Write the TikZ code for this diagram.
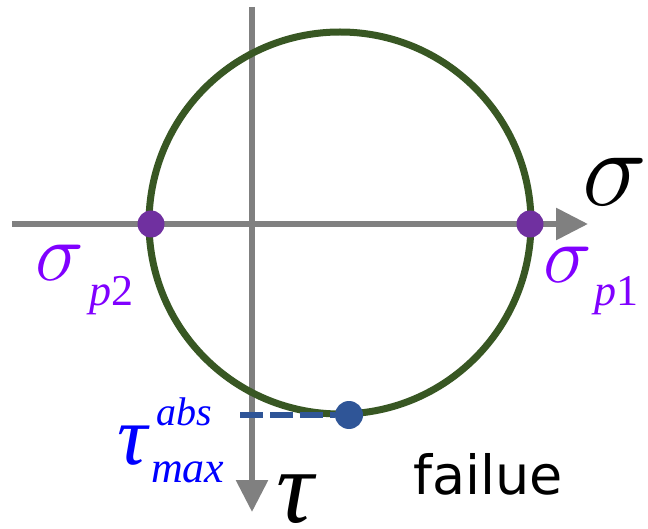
\documentclass[tikz,border=0pt]{standalone}
\usepackage{graphicx}
\usepackage{fontspec}
\usetikzlibrary{arrows.meta}
\newfontfamily\handfont{DejaVu Sans}
\newfontfamily\tnr{Liberation Serif}
\definecolor{circgreen}{RGB}{56,87,35}
\definecolor{axisgray}{RGB}{128,128,128}
\definecolor{dotpurple}{RGB}{112,48,160}
\definecolor{textpurple}{RGB}{128,0,255}
\definecolor{dotblue}{RGB}{47,85,151}
\definecolor{textblue}{RGB}{0,0,255}
\newcommand{\fs}[1]{\fontsize{#1}{#1}\selectfont}
\tikzset{
  axis/.style={draw=axisgray, line width=6pt, -{Triangle[length=32pt,width=31pt]}},
  dotnode/.style={circle, inner sep=0, minimum size=#1},
  greek/.style={inner sep=0, font=\Huge},
  lbl/.style={inner sep=0, font=\tnr\itshape},
}
\begin{document}
\begin{tikzpicture}[x=1pt,y=-1pt]
\useasboundingbox (0,0) rectangle (648,529);
\coordinate (c) at (340,223);
\coordinate (h0) at (12,224);
\coordinate (h1) at (588,224);
\coordinate (v0) at (252,7);
\coordinate (v1) at (252,512);
\draw[axis] (h0) -- (h1);
\draw[axis] (v0) -- (v1);
\draw[circgreen, line width=7pt] (c) circle[radius=191];
\node[dotnode=27pt, fill=dotpurple] (p2) at (151,224) {};
\node[dotnode=27pt, fill=dotpurple] (p1) at (530,224) {};
\node[dotnode=28pt, fill=dotblue] (tm) at (349,415) {};
\coordinate (d0) at (240,415);
\draw[dotblue, line width=6pt, dash pattern=on 23pt off 7pt] (d0) -- (tm);
% black axis labels
\node[greek] (sig) at (615,182) {\scalebox{4.4}{$\sigma$}};
\node[lbl] (tau) at (295,499) {\fs{104}τ};
% principal stresses
\node[greek, text=textpurple] (s1) at (568,265) {\scalebox{3.3}{$\sigma$}};
\node[lbl, text=textpurple, anchor=base west] (s1sub) at (594,306) {\fs{44}p\upshape 1};
\node[greek, text=textpurple] (s2) at (60,263) {\scalebox{3.3}{$\sigma$}};
\node[lbl, text=textpurple, anchor=base west] (s2sub) at (89,306) {\fs{44}p\upshape 2};
% max shear
\node[lbl, text=textblue] (tmx) at (133,446) {\fs{84}τ};
\node[lbl, text=textblue, anchor=base west] (tsup) at (156,425) {\fs{40}abs};
\node[lbl, text=textblue, anchor=base west] (tsub) at (151,482) {\fs{44}max};
\node[inner sep=0] (fail) at (488,474) {\handfont\fs{54}failue};
\end{tikzpicture}
\end{document}
